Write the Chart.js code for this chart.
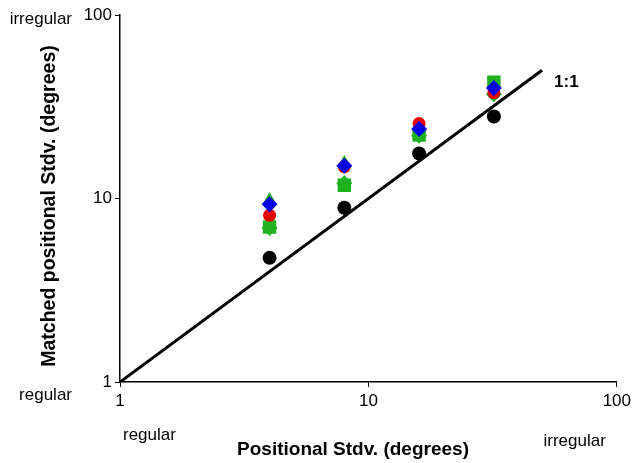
<!DOCTYPE html>
<html>
<head>
<meta charset="utf-8">
<script src="https://cdn.jsdelivr.net/npm/chart.js@4/dist/chart.umd.min.js"></script>
<style>
  html, body { margin: 0; padding: 0; background: #ffffff; }
  #wrap { width: 635px; height: 463px; }
</style>
</head>
<body>
<div id="wrap"><canvas id="stdvChart" width="635" height="463"></canvas></div>
<script>
// ------------------- Data -------------------
const positionalStdv = [4, 8, 16, 32];
const blackCircles = [4.75, 8.9, 17.6, 28];
const redCircles = [8.1, 14.9, 25.6, 37.8];
const blueDiamonds = [9.3, 15.1, 23.9, 40];
const greenTriangles = [9.8, 15.6, 24.5, 42];
const greenSquares = [7.0, 11.8, 22.2, 43];
const greenDiamonds = [6.9, 12.1, 22.0, 37];
const identityLine = [1, 50];
const axisTicks = [1, 10, 100];

const FONT = "'Liberation Sans', Arial, Helvetica, sans-serif";
const GREEN = "#1fb21f";

function points(ys) {
  return positionalStdv.map((x, i) => ({ x: x, y: ys[i] }));
}

function markerSet(label, ys, color, style, radius) {
  return {
    type: "scatter",
    label: label,
    data: points(ys),
    pointStyle: style,
    pointRadius: radius,
    backgroundColor: color,
    borderColor: color,
    borderWidth: 0,
  };
}

// corner text, axis titles and the 1:1 label
const annotationText = {
  id: "annotationText",
  afterDraw(chart) {
    const ctx = chart.ctx;
    const xs = chart.scales.x, ys = chart.scales.y;
    ctx.save();
    ctx.fillStyle = "#000";
    ctx.textBaseline = "middle";
    ctx.font = "17px " + FONT;
    ctx.textAlign = "right";
    ctx.fillText("irregular", xs.left - 48, ys.top + 4);
    ctx.fillText("regular", xs.left - 48, ys.bottom + 13);
    ctx.fillText("irregular", xs.right - 11, ys.bottom + 59);
    ctx.textAlign = "left";
    ctx.fillText("regular", xs.left + 3, ys.bottom + 53);
    ctx.font = "bold 17px " + FONT;
    ctx.fillText("1:1", xs.getPixelForValue(identityLine[1]) + 12, ys.getPixelForValue(identityLine[1]) + 12);
    ctx.font = "bold 19px " + FONT;
    ctx.textAlign = "center";
    ctx.fillText("Positional Stdv. (degrees)", 353, ys.bottom + 68);
    // y title, rotated
    ctx.translate(50, 206);
    ctx.rotate(-Math.PI / 2);
    ctx.font = "bold 19.5px " + FONT;
    ctx.fillText("Matched positional Stdv. (degrees)", 0, 0);
    ctx.restore();
  }
};

function fixedTicks(scale) {
  scale.ticks = axisTicks.map((v) => ({ value: v }));
}

new Chart(document.getElementById("stdvChart"), {
  data: {
    datasets: [
      {
        type: "line",
        label: "1:1",
        data: identityLine.map((v) => ({ x: v, y: v })),
        borderColor: "#000",
        borderWidth: 3,
        pointRadius: 0,
        fill: false,
      },
      markerSet("blue", blueDiamonds, "#0000e6", "rectRot", 8),
      markerSet("red", redCircles, "#e60000", "circle", 6.5),
      markerSet("green square", greenSquares, GREEN, "rect", 9.5),
      markerSet("green diamond", greenDiamonds, GREEN, "rectRot", 8),
      markerSet("green triangle", greenTriangles, GREEN, "triangle", 8),
      markerSet("black", blackCircles, "#000", "circle", 7),
    ],
  },
  options: {
    responsive: false,
    animation: false,
    layout: { padding: { left: 38, right: 17, top: 15, bottom: 2 } },
    plugins: {
      legend: { display: false },
      tooltip: { enabled: false },
    },
    scales: {
      x: {
        type: "logarithmic",
        min: 1,
        max: 100,
        afterBuildTicks: fixedTicks,
        afterFit: (s) => { s.height = 79; },
        border: { color: "#000", width: 1.5 },
        grid: { drawOnChartArea: false, color: "#000", tickLength: 5 },
        ticks: {
          color: "#000",
          padding: 4,
          maxRotation: 0,
          font: { size: 17, family: FONT },
          callback: (v) => String(v),
        },
      },
      y: {
        type: "logarithmic",
        min: 1,
        max: 100,
        afterBuildTicks: fixedTicks,
        afterFit: (s) => { s.width = 82; },
        border: { color: "#000", width: 1.5 },
        grid: { drawOnChartArea: false, color: "#000", tickLength: 5 },
        ticks: {
          color: "#000",
          padding: 3,
          font: { size: 17, family: FONT },
          callback: (v) => String(v),
        },
      },
    },
  },
  plugins: [annotationText],
});
</script>
</body>
</html>
